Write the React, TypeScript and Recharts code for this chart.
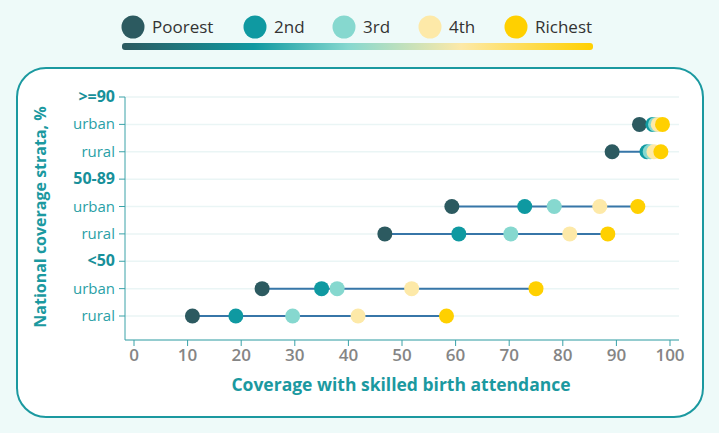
import React from "react";
import { ScatterChart, Scatter, XAxis, YAxis, CartesianGrid } from "recharts";

// rows top to bottom, y index counts up from the bottom
const rowLabels = [">=90", "urban", "rural", "50-89", "urban", "rural", "<50", "urban", "rural"];
const groupLabels = [">=90", "50-89", "<50"];
const strataRows = [7, 6, 4, 3, 1, 0]; // >=90 urban, >=90 rural, 50-89 urban, 50-89 rural, <50 urban, <50 rural

const quintiles = ["Poorest", "2nd", "3rd", "4th", "Richest"];
const colors = ["#2c5a60", "#0f99a1", "#86d8cf", "#fde9a8", "#ffd000"];

const poorest = [94.3, 89.2, 59.3, 46.8, 23.9, 10.9];
const second = [96.8, 95.7, 72.9, 60.6, 35.0, 19.0];
const third = [97.3, 96.3, 78.4, 70.3, 37.9, 29.6];
const fourth = [97.8, 97.0, 86.9, 81.3, 51.8, 41.8];
const richest = [98.6, 98.3, 94.0, 88.4, 75.0, 58.3];

const xTicks = [0, 10, 20, 30, 40, 50, 60, 70, 80, 90, 100];

const series = [poorest, second, third, fourth, richest];
const teal = "#1b99a0";

const YTick = (props: any) => {
  const { x, y, payload } = props;
  const label = rowLabels[8 - payload.value];
  const bold = groupLabels.includes(label);
  return (
    <text x={x} y={y} dy={5} textAnchor="end" fill={bold ? "#17909a" : "#2a9fa6"}
      fontSize={bold ? 16 : 15} fontWeight={bold ? 700 : 400} fontFamily="Open Sans">
      {label}
    </text>
  );
};

const Legend = () => (
  <svg width={719} height={60} style={{ position: "absolute", left: 0, top: 0 }}>
    <defs>
      <linearGradient id="lg" x1="0" x2="1" y1="0" y2="0">
        <stop offset="0%" stopColor="#2c5a60" />
        <stop offset="28%" stopColor="#0f99a1" />
        <stop offset="48%" stopColor="#86d8cf" />
        <stop offset="72%" stopColor="#fde9a8" />
        <stop offset="100%" stopColor="#ffd000" />
      </linearGradient>
    </defs>
    {quintiles.map((q, i) => {
      const cx = [133, 255, 344, 430, 516][i];
      return (
        <g key={q}>
          <circle cx={cx} cy={27} r={11.5} fill={colors[i]} />
          <text x={cx + 19} y={33} fontSize={17} fill="#333" fontFamily="Open Sans">{q}</text>
        </g>
      );
    })}
    <rect x={122} y={43} width={471} height={7} rx={3} fill="url(#lg)" />
  </svg>
);

export default function App() {
  const connectors = strataRows.map((row, i) => {
    const vals = series.map((s) => s[i]);
    return [
      { x: Math.min(...vals), y: row },
      { x: Math.max(...vals), y: row },
    ];
  });

  return (
    <div style={{ position: "absolute", left: 0, top: 0, width: 719, height: 433, background: "#eefaf9", fontFamily: "Open Sans" }}>
      <Legend />
      <div style={{ position: "absolute", left: 16, top: 67, width: 688, height: 351, boxSizing: "border-box",
        border: `2.5px solid ${teal}`, borderRadius: 30, background: "#fff" }} />
      <div style={{ position: "absolute", left: 40, top: 217, transform: "translate(-50%, -50%) rotate(-90deg)",
        whiteSpace: "nowrap", color: teal, fontWeight: 700, fontSize: 16 }}>
        National coverage strata, %
      </div>
      <div style={{ position: "absolute", left: 401, top: 384, transform: "translate(-50%, -50%)",
        whiteSpace: "nowrap", color: teal, fontWeight: 700, fontSize: 17.5 }}>
        Coverage with skilled birth attendance
      </div>
      <div style={{ position: "absolute", left: 0, top: 0 }}>
        <ScatterChart width={719} height={433} margin={{ top: 97, right: 40, bottom: 63, left: 15 }}>
          <CartesianGrid vertical={false} stroke="#eaf5f5" strokeWidth={1.5} />
          <XAxis type="number" dataKey="x" domain={[0, 100]} ticks={xTicks} padding={{ left: 9, right: 9 }}
            height={30} stroke="#3aa2a8" tickSize={6} tickMargin={3}
            tick={{ fill: "#858585", fontSize: 17, fontWeight: 600, fontFamily: "Open Sans" }} />
          <YAxis type="number" dataKey="y" domain={[0, 8]} ticks={[0, 1, 2, 3, 4, 5, 6, 7, 8]}
            padding={{ top: 0, bottom: 24 }} width={110} stroke="#3aa2a8" tickSize={6} tickMargin={4}
            tick={<YTick />} interval={0} />
          {connectors.map((d, i) => (
            <Scatter key={"c" + i} data={d} line={{ stroke: "#3776a8", strokeWidth: 2 }}
              shape={() => <g />} isAnimationActive={false} />
          ))}
          {series.map((s, k) => (
            <Scatter key={quintiles[k]} name={quintiles[k]}
              data={s.map((v, i) => ({ x: v, y: strataRows[i] }))}
              fill={colors[k]} isAnimationActive={false}
              shape={(p: any) => <circle cx={p.cx} cy={p.cy} r={7.5} fill={colors[k]} />} />
          ))}
        </ScatterChart>
      </div>
    </div>
  );
}
